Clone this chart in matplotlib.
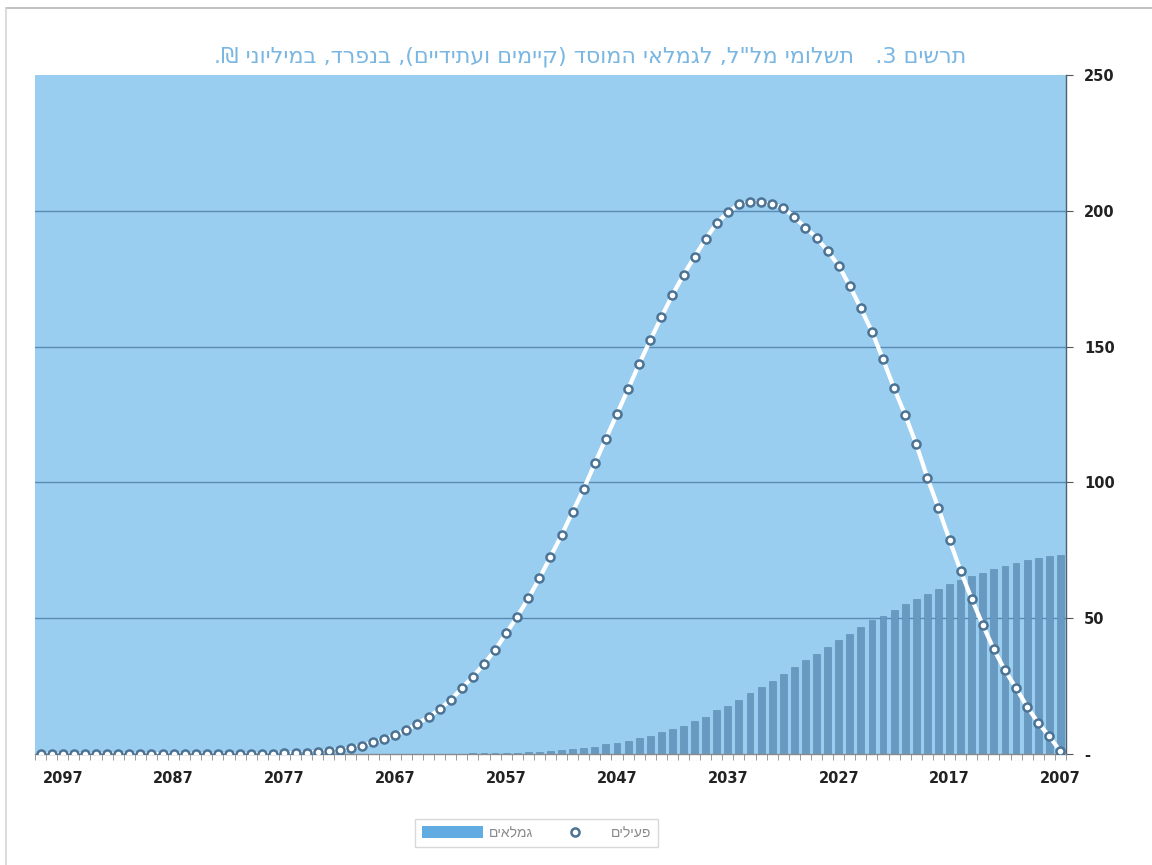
import numpy as np
import matplotlib
matplotlib.use("Agg")
from matplotlib import pyplot as plt
from matplotlib.lines import Line2D
from matplotlib.patches import Patch

plt.rcParams['font.family'] = ['Liberation Sans', 'DejaVu Sans']

# yearly series, 2007 .. 2099
years = list(range(2007, 2100))

# active members (circles), millions NIS
active = [1.0, 6.5, 11.5, 17.4, 24.3, 30.8, 38.5, 47.5, 57.1, 67.4,
          78.8, 90.5, 101.7, 114.0, 124.8, 134.6, 145.3, 155.5, 164.1, 172.3,
          179.8, 185.2, 190.1, 193.8, 197.6, 201.1, 202.4, 203.1, 203.1, 202.4,
          199.4, 195.5, 189.6, 183.1, 176.4, 169.0, 160.8, 152.4, 143.6, 134.4,
          125.2, 116.1, 107.0, 97.6, 89.2, 80.6, 72.6, 64.7, 57.3, 50.6,
          44.4, 38.3, 33.1, 28.5, 24.2, 19.9, 16.5, 13.6, 11.2, 8.8,
          7.0, 5.4, 4.3, 3.1, 2.1, 1.5, 1.1, 0.8, 0.5, 0.3,
          0.2, 0.1] + [0.0] * 21

# pensioners (bars), millions NIS
pensioners = [73.3, 72.9, 72.3, 71.4, 70.4, 69.2, 68.0, 66.8, 65.5, 64.1,
              62.6, 60.8, 59.0, 57.2, 55.3, 53.2, 50.9, 49.3, 46.8, 44.3,
              41.9, 39.3, 37.0, 34.6, 31.9, 29.5, 27.0, 24.6, 22.6, 19.9,
              17.8, 16.2, 13.7, 12.3, 10.4, 9.2, 8.0, 6.7, 5.8, 4.8,
              4.2, 3.6, 2.5, 2.1, 1.7, 1.3, 1.0, 0.8, 0.6, 0.5,
              0.4, 0.3, 0.2, 0.2, 0.1, 0.1] + [0.0] * 37

xlabels = list(range(2007, 2100, 10))
yticks = [0, 50, 100, 150, 200, 250]
ylabels = ['-', '50', '100', '150', '200', '250']

title = 'תרשים 3.   תשלומי מל"ל, לגמלאי המוסד (קיימים ועתידיים), בנפרד, במיליוני ₪.'
lbl_bars = 'גמלאים'
lbl_active = 'פעילים'


def rtl(s):
    # matplotlib lays text out left to right, so flip hebrew strings
    return s[::-1].translate(str.maketrans('()', ')('))


fig = plt.figure(figsize=(11.52, 8.65), dpi=100)
fig.patch.set_facecolor('white')
ax = fig.add_axes([0.0304, 0.1283, 0.8949, 0.785])
ax.set_facecolor('#99cef1')

bar_col = '#6799c1'
ax.bar(years, pensioners, width=0.62, color=bar_col, edgecolor='#5a89b0',
       linewidth=0.4, zorder=2)
line, = ax.plot(years, active, color='white', lw=3.0, marker='o', ms=5.8,
                mfc='white', mec='#4d7394', mew=1.8, zorder=4)

ax.set_xlim(2099.4, 2006.7)
ax.set_ylim(0, 250)

for v in [50, 100, 150, 200]:
    ax.axhline(v, color='#5a8ab0', lw=1.0, zorder=1)

tick_font = dict(family='DejaVu Sans', size=10.5, weight='bold')
ax.yaxis.tick_right()
ax.set_yticks(yticks)
ax.set_yticklabels(ylabels, fontdict=tick_font, color='#222222')
ax.tick_params(axis='y', direction='out', length=5, width=0.8, color='#555555', pad=8)

ax.set_xticks(xlabels)
ax.set_xticklabels([str(y) for y in xlabels], fontdict=tick_font, color='#222222')
ax.set_xticks(np.arange(2006.5, 2099.6, 1.0), minor=True)
ax.tick_params(axis='x', which='major', length=0, pad=12)
ax.tick_params(axis='x', which='minor', direction='out', length=4, width=0.6, color='#8a8a8a')

for side in ['top', 'left']:
    ax.spines[side].set_visible(False)
ax.spines['right'].set_color('#50606e')
ax.spines['right'].set_linewidth(1.0)
ax.spines['bottom'].set_color('#8a8a8a')
ax.spines['bottom'].set_linewidth(1.0)

fig.text(0.512, 0.934, rtl(title), ha='center', va='center', fontsize=16,
         family=['DejaVu Sans'], color='#79b6e2')

# legend: bars first, then the circles
bar_handle = Patch(facecolor='#62acE4', edgecolor='none')
leg = ax.legend([bar_handle, line], [rtl(lbl_bars), rtl(lbl_active)],
                loc='center', bbox_to_anchor=(0.4657, 0.037),
                bbox_transform=fig.transFigure, ncol=2, fontsize=10,
                frameon=True, fancybox=False, handlelength=4.4,
                handleheight=1.0, handletextpad=0.4, columnspacing=0.8,
                borderpad=0.5, numpoints=1)
leg.get_frame().set_edgecolor('#cfcfcf')
leg.get_frame().set_linewidth(1.0)
for t in leg.get_texts():
    t.set_color('#8a8a8a')

# thin outer frame along the top and left edges
fig.add_artist(Line2D([0.005, 1.0], [0.991, 0.991], transform=fig.transFigure,
                      color='#b5b5b5', lw=1.2))
fig.add_artist(Line2D([0.005, 0.005], [0.0, 0.991], transform=fig.transFigure,
                      color='#d5d5d5', lw=1.2))

fig.savefig('out.png', dpi=100)
